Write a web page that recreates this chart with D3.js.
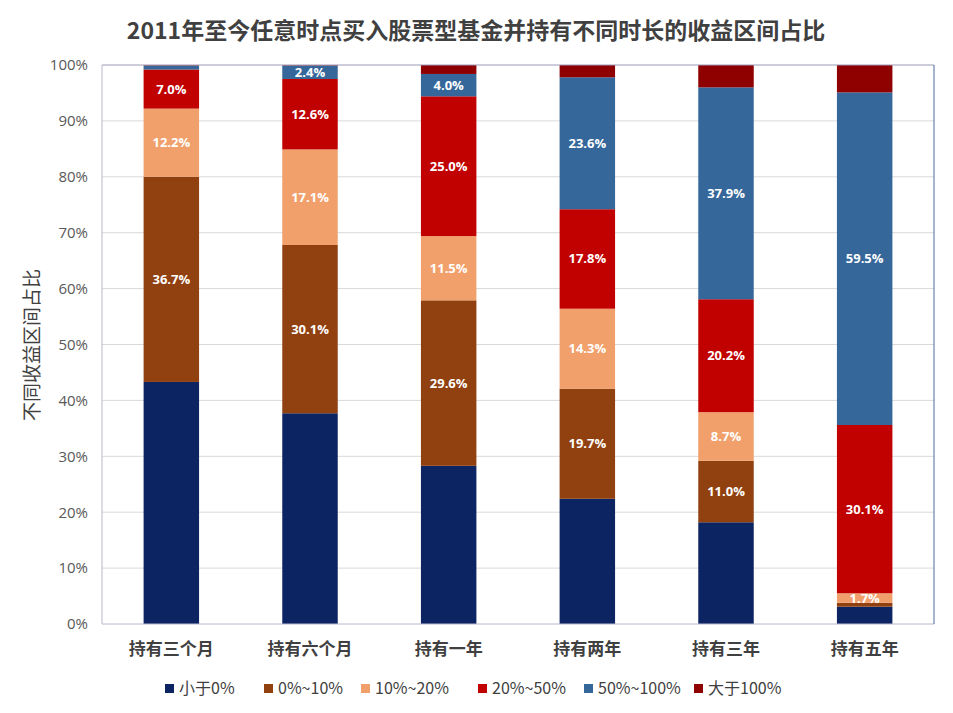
<!DOCTYPE html>
<html><head><meta charset="utf-8">
<script src="https://cdn.jsdelivr.net/npm/d3@7"></script>
<style>body{margin:0;background:#fff;}</style>
</head><body>
<svg id="chart" width="953" height="713"></svg>
<script>
const categories = ["持有三个月","持有六个月","持有一年","持有两年","持有三年","持有五年"];
const seriesNames = ["小于0%","0%~10%","10%~20%","20%~50%","50%~100%","大于100%"];
const s_lt0     = [43.3, 37.7, 28.3, 22.4, 18.2, 3.1];
const s_0_10    = [36.7, 30.1, 29.6, 19.7, 11.0, 0.7];
const s_10_20   = [12.2, 17.1, 11.5, 14.3, 8.7, 1.7];
const s_20_50   = [7.0, 12.6, 25.0, 17.8, 20.2, 30.1];
const s_50_100  = [0.7, 2.4, 4.0, 23.6, 37.9, 59.5];
const s_gt100   = [0.1, 0.1, 1.6, 2.2, 4.0, 4.9];
const yTicks = [0,10,20,30,40,50,60,70,80,90,100];
const colors = ["#0d2463","#91410f","#f1a06b","#c10000","#35679a","#8f0000"];
const title = "2011年至今任意时点买入股票型基金并持有不同时长的收益区间占比";
const yTitle = "不同收益区间占比";

const seriesVals = [s_lt0, s_0_10, s_10_20, s_20_50, s_50_100, s_gt100];
const keys = seriesNames;
const table = categories.map((c,i)=>{const o={cat:c}; keys.forEach((k,j)=>o[k]=seriesVals[j][i]); return o;});
const stack = d3.stack().keys(keys)(table);

const svg = d3.select("#chart");
const font = "'Open Sans','Noto Sans CJK SC',sans-serif";
const cjk = "'Noto Sans CJK SC',sans-serif";
const m = {l:102, r:934, t:65, b:624};
const x = d3.scaleBand().domain(categories).range([m.l, m.r]).paddingInner(0.6).paddingOuter(0.3);
const y = d3.scaleLinear().domain([0,100]).range([m.b, m.t]);

svg.append("text").attr("x",476).attr("y",39).attr("text-anchor","middle")
  .attr("font-family",cjk).attr("font-weight","bold").attr("font-size",23)
  .attr("fill","#404040").text(title);

// grid
svg.append("g").selectAll("line").data(yTicks.filter(t=>t>0&&t<100)).join("line")
  .attr("x1",m.l).attr("x2",m.r).attr("y1",d=>y(d)).attr("y2",d=>y(d))
  .attr("stroke","#d9d9d9").attr("stroke-width",1);

// y axis
const ya = svg.append("g").attr("transform",`translate(${m.l},0)`)
  .call(d3.axisLeft(y).tickValues(yTicks).tickFormat(d=>d+"%").tickSize(0).tickPadding(14));
ya.select(".domain").remove();
ya.selectAll("text").attr("font-family",font).attr("font-size",15).attr("fill","#595959");

svg.append("text").attr("transform",`translate(39,345) rotate(-90)`).attr("text-anchor","middle")
  .attr("font-family",cjk).attr("font-size",19).attr("fill","#404040").text(yTitle);

// bars
const g = svg.append("g");
stack.forEach((s,si)=>{
  g.append("g").selectAll("rect").data(s).join("rect")
    .attr("x",d=>x(d.data.cat)).attr("width",x.bandwidth())
    .attr("y",d=>y(d[1])).attr("height",d=>y(d[0])-y(d[1]))
    .attr("fill",colors[si]);
});
// labels
stack.forEach((s,si)=>{
  if(si<1||si>4) return;
  g.append("g").selectAll("text").data(s.filter(d=>d[1]-d[0]>=1.5)).join("text")
    .attr("x",d=>x(d.data.cat)+x.bandwidth()/2).attr("y",d=>y((d[0]+d[1])/2)+4.5)
    .attr("text-anchor","middle").attr("font-family",font).attr("font-weight","bold")
    .attr("font-size",13).attr("fill","#fff").text(d=>(d[1]-d[0]).toFixed(1)+"%");
});

// border
svg.append("line").attr("x1",m.l).attr("x2",m.r).attr("y1",m.t).attr("y2",m.t).attr("stroke","#9a9ab8");
svg.append("line").attr("x1",m.l).attr("x2",m.r).attr("y1",m.b).attr("y2",m.b).attr("stroke","#b8b8cc");
svg.append("line").attr("x1",m.l).attr("x2",m.l).attr("y1",m.t).attr("y2",m.b).attr("stroke","#b8b8cc");
svg.append("line").attr("x1",m.r).attr("x2",m.r).attr("y1",m.t).attr("y2",m.b).attr("stroke","#4a6a96");

// x axis labels
const xa = svg.append("g").attr("transform",`translate(0,${m.b})`)
  .call(d3.axisBottom(x).tickSize(0).tickPadding(19));
xa.select(".domain").remove();
xa.selectAll("text").attr("font-family",cjk).attr("font-weight","bold")
  .attr("font-size",17).attr("fill","#404040");

// legend
const legX = [165, 264, 361, 478, 584, 694];
const lg = svg.append("g");
seriesNames.forEach((n,i)=>{
  lg.append("rect").attr("x",legX[i]).attr("y",684).attr("width",9).attr("height",9).attr("fill",colors[i]);
  lg.append("text").attr("x",legX[i]+14).attr("y",694).attr("font-family",cjk)
    .attr("font-size",16).attr("fill","#404040").text(n);
});
</script>
</body></html>
